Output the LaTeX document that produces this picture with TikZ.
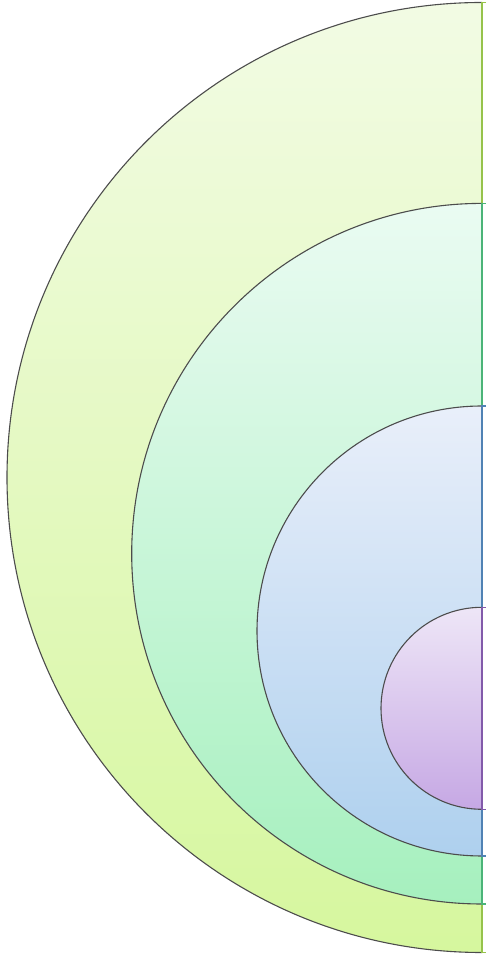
\documentclass[tikz,border=0pt]{standalone}
\usetikzlibrary{positioning}

\definecolor{ringAtop}{RGB}{242,251,228}
\definecolor{ringAbot}{RGB}{214,247,158}
\definecolor{ringAedge}{RGB}{150,195,75}
\definecolor{ringBtop}{RGB}{234,251,242}
\definecolor{ringBbot}{RGB}{166,240,190}
\definecolor{ringBedge}{RGB}{75,180,120}
\definecolor{ringCtop}{RGB}{233,239,250}
\definecolor{ringCbot}{RGB}{174,208,238}
\definecolor{ringCedge}{RGB}{80,130,180}
\definecolor{ringDtop}{RGB}{238,230,247}
\definecolor{ringDbot}{RGB}{198,168,228}
\definecolor{ringDedge}{RGB}{130,90,170}

\begin{document}
\begin{tikzpicture}[x=1pt,y=1pt]

    \tikzset{
        halfdisc/.style={
            draw=black!70,
            line width=1.1pt
        },
        rimline/.style={
            line width=1.5pt
        }
    }
    \useasboundingbox (0,0) rectangle (487,956);

    % outer
    \shade[halfdisc, top color=ringAtop, bottom color=ringAbot]
        (482,953.5) arc[start angle=90, end angle=270, radius=475pt];
    \draw[rimline, ringAedge] (486,953.5) -- (482,953.5) -- (482,3.5) -- (486,3.5);

    % second
    \shade[halfdisc, top color=ringBtop, bottom color=ringBbot]
        (482,752.6) arc[start angle=90, end angle=270, radius=350.3pt];
    \draw[rimline, ringBedge] (486,752.6) -- (482,752.6) -- (482,52) -- (486,52);

    % third
    \shade[halfdisc, top color=ringCtop, bottom color=ringCbot]
        (482,550) arc[start angle=90, end angle=270, radius=225pt];
    \draw[rimline, ringCedge] (486,550) -- (482,550) -- (482,100) -- (486,100);

    % inner
    \shade[halfdisc, top color=ringDtop, bottom color=ringDbot]
        (482,348.7) arc[start angle=90, end angle=270, radius=101pt];
    \draw[rimline, ringDedge] (486,348.7) -- (482,348.7) -- (482,146.7) -- (486,146.7);

\end{tikzpicture}
\end{document}
